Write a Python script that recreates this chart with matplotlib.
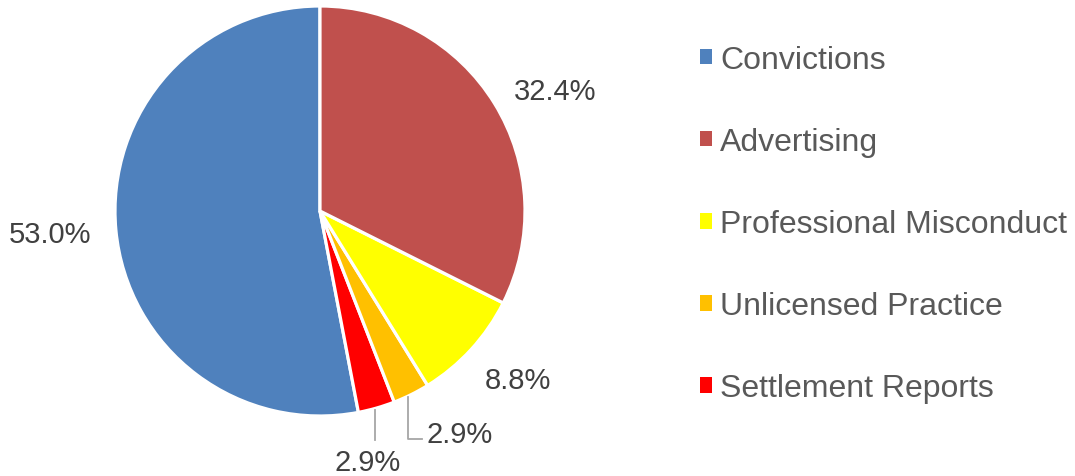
import numpy as np
import matplotlib
matplotlib.use("Agg")
import matplotlib.pyplot as plt
from matplotlib.patches import Patch

categories = ["Convictions", "Advertising", "Professional Misconduct",
              "Unlicensed Practice", "Settlement Reports"]
values = [53.0, 32.4, 8.8, 2.9, 2.9]
colors = ["#4F81BD", "#C0504D", "#FFFF00", "#FFC000", "#FF0000"]

# drawing order (counter-clockwise from 12 o'clock)
order = [0, 4, 3, 2, 1]

plt.rcParams['font.family'] = ['Liberation Sans', 'DejaVu Sans']

W, H = 1075, 477
fig = plt.figure(figsize=(W / 100, H / 100), dpi=100)
ax = fig.add_axes([0, 0, 1, 1])
cx, cy, R = 320, 212, 205

vals = [values[i] for i in order]
cols = [colors[i] for i in order]
wedges, _ = ax.pie(vals, colors=cols, startangle=90, counterclock=True,
                   radius=1.0, center=(0, 0), frame=True,
                   wedgeprops=dict(edgecolor='white', linewidth=2.3))
ax.set_xlim(-cx / R, (W - cx) / R)
ax.set_ylim((cy - H) / R, cy / R)
ax.set_aspect('auto')
ax.axis('off')

lab_color = "#404040"
lab_size = 21
line_col = "#A6A6A6"

# label layout (axes data units; pie radius = 1)
label_pos = {0: (-1.317, -0.11), 1: (1.146, 0.585), 2: (0.966, -0.825)}

for w, idx in zip(wedges, order):
    mid = np.deg2rad((w.theta1 + w.theta2) / 2)
    txt = f"{values[idx]:.1f}%"
    ex, ey = np.cos(mid), np.sin(mid)
    if idx == 4:  # Settlement Reports
        ybot = -1.115
        ax.plot([ex - 0.01, ex - 0.01], [ey - 0.01, ybot], color=line_col, lw=1.3)
        ax.text(ex - 0.045, -1.225, txt, ha='center', va='center',
                fontsize=lab_size, color=lab_color)
    elif idx == 3:  # Unlicensed Practice
        ybot = -1.11
        ax.plot([ex - 0.015, ex - 0.015, ex + 0.05], [ey - 0.01, ybot, ybot],
                color=line_col, lw=1.3)
        ax.text(ex + 0.075, -1.09, txt, ha='left', va='center',
                fontsize=lab_size, color=lab_color)
    else:
        x, y = label_pos[idx]
        ax.text(x, y, txt, ha='center', va='center',
                fontsize=lab_size, color=lab_color)

handles = [Patch(facecolor=c, edgecolor='none') for c in colors]
leg = fig.legend(handles, categories, loc='upper left',
                 bbox_to_anchor=(700 / W, 1 - 46 / H),
                 frameon=False, fontsize=23.0,
                 handlelength=0.38, handleheight=0.38,
                 handletextpad=0.25, labelspacing=1.63,
                 borderpad=0, borderaxespad=0)
for t in leg.get_texts():
    t.set_color("#595959")

fig.savefig("out.png", dpi=100)
